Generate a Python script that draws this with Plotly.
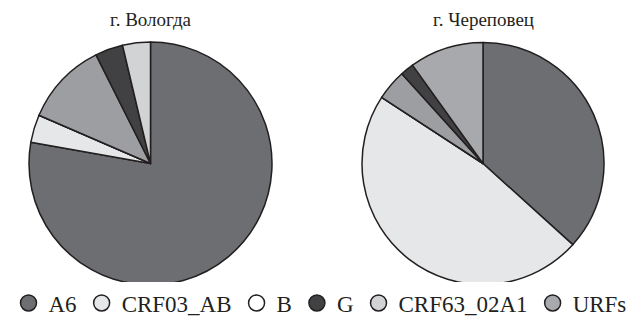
import plotly.graph_objects as go

# Data (percent shares)
cities = ["г. Вологда", "г. Череповец"]

vologda_labels = ["A6", "CRF03_AB", "B", "URFs", "G", "CRF63_02A1"]
vologda_values = [77.8, 3.7, 0.0, 11.1, 3.7, 3.7]
vologda_colors = ["#6d6e71", "#e6e7e8", "#ffffff", "#9d9ea1", "#414042", "#d1d3d4"]

cherep_labels = ["A6", "CRF03_AB", "B", "CRF63_02A1", "G", "URFs"]
cherep_values = [36.7, 47.5, 0.0, 4.1, 1.8, 9.9]
cherep_colors = ["#6d6e71", "#e6e7e8", "#ffffff", "#9d9ea1", "#414042", "#a7a9ac"]

legend_labels = ["A6", "CRF03_AB", "B", "G", "CRF63_02A1", "URFs"]
legend_colors = ["#6d6e71", "#e6e7e8", "#ffffff", "#414042", "#d1d3d4", "#a7a9ac"]

OFF = 8  # page body margin
W, H = 637 - OFF, 325 - OFF
FONT = "Liberation Serif, DejaVu Serif, Times New Roman, serif"

fig = go.Figure()

def fx(x):
    return (x - OFF) / W

def fy(y):
    return 1 - (y - OFF) / H

def dom(x0, x1, y0, y1):
    return dict(x=[fx(x0), fx(x1)], y=[fy(y1), fy(y0)])

fig.add_trace(go.Pie(
    labels=vologda_labels, values=vologda_values, sort=False,
    direction="clockwise", rotation=0, textinfo="none",
    marker=dict(colors=vologda_colors, line=dict(color="#231f20", width=1.5)),
    domain=dom(29, 272, 42, 285), showlegend=False, name=cities[0],
))
fig.add_trace(go.Pie(
    labels=cherep_labels, values=cherep_values, sort=False,
    direction="clockwise", rotation=0, textinfo="none",
    marker=dict(colors=cherep_colors, line=dict(color="#231f20", width=1.5)),
    domain=dom(362, 604, 42, 285), showlegend=False, name=cities[1],
))

for lab, col in zip(legend_labels, legend_colors):
    fig.add_trace(go.Scatter(
        x=[None], y=[None], mode="markers", name=lab,
        marker=dict(symbol="circle", size=16, color=col,
                    line=dict(color="#231f20", width=1.5)),
        showlegend=True,
    ))

annotations = []
for name, cx in zip(cities, [150.5, 483]):
    annotations.append(dict(
        text=name, x=fx(cx), y=1, xref="paper", yref="paper",
        xanchor="center", yanchor="top", showarrow=False, borderpad=0,
        font=dict(family=FONT, size=19, color="#231f20"),
    ))

fig.update_layout(
    width=W, height=H,
    margin=dict(l=0, r=0, t=0, b=0),
    paper_bgcolor="white", plot_bgcolor="white",
    xaxis=dict(visible=False), yaxis=dict(visible=False),
    annotations=annotations,
    legend=dict(
        orientation="h", x=fx(320), xanchor="center", y=fy(303), yanchor="middle",
        font=dict(family=FONT, size=23, color="#231f20"),
        itemsizing="trace", traceorder="normal", itemclick=False,
        itemwidth=30,
    ),
)

fig.write_html("out.html")
